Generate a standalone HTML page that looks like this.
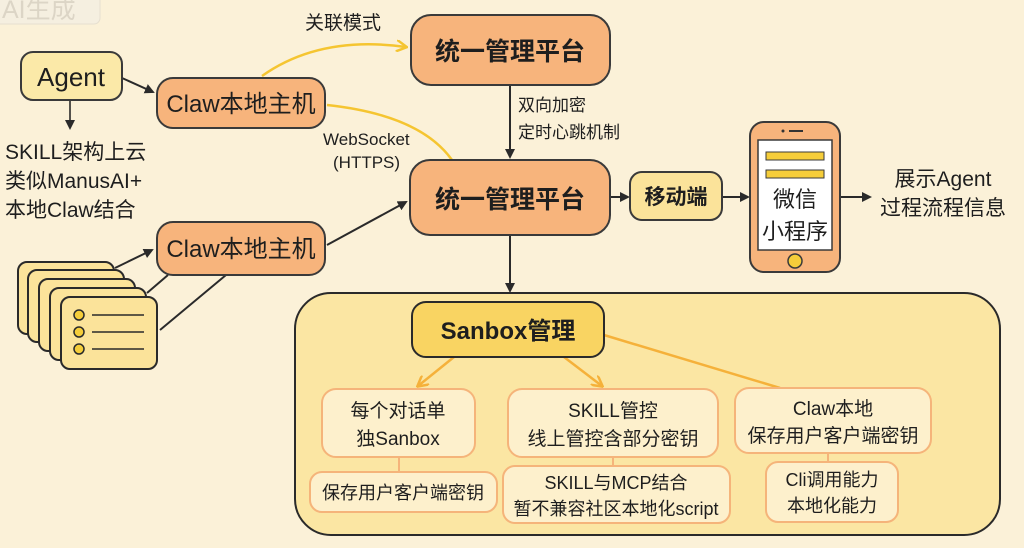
<!DOCTYPE html>
<html><head><meta charset="utf-8"><style>
body{margin:0;width:1024px;height:548px;overflow:hidden;background:#fbf1d8;}
svg{display:block}
text{font-family:"Liberation Sans","Noto Sans CJK SC",sans-serif;fill:#1e1e1e}
</style></head><body>
<svg width="1024" height="548" viewBox="0 0 1024 548">
<defs>
<marker id="a" markerWidth="10" markerHeight="10" refX="8" refY="5" orient="auto" markerUnits="userSpaceOnUse"><path d="M0,0 L10,5 L0,10 z" fill="#2a2a2a"/></marker>
<marker id="y" markerWidth="12" markerHeight="12" refX="10" refY="6" orient="auto" markerUnits="userSpaceOnUse"><path d="M0,0 L11,6 L0,12" fill="none" stroke="#f5c531" stroke-width="2.5"/></marker>
<marker id="o" markerWidth="12" markerHeight="12" refX="10" refY="6" orient="auto" markerUnits="userSpaceOnUse"><path d="M0,0 L11,6 L0,12" fill="none" stroke="#f5b13a" stroke-width="2.5"/></marker>
</defs>
<rect width="1024" height="548" fill="#fbf1d8"/>
<rect x="-10" y="-10" width="110" height="34" rx="6" fill="#f5efe0" stroke="#e6dfcf"/>
<text x="2" y="18" font-size="25" style="fill:#dcd5c6">AI生成</text>

<path d="M262,76 Q320,35 406,47" fill="none" stroke="#f5c531" stroke-width="2.5" marker-end="url(#y)"/>
<path d="M327,105 Q420,115 452,160" fill="none" stroke="#f5c531" stroke-width="2.5"/>
<line x1="122" y1="78" x2="153" y2="92" stroke="#2a2a2a" stroke-width="2" marker-end="url(#a)"/>
<line x1="70" y1="100" x2="70" y2="128" stroke="#2a2a2a" stroke-width="1.6" marker-end="url(#a)"/>
<line x1="510" y1="86" x2="510" y2="157" stroke="#2a2a2a" stroke-width="2" marker-end="url(#a)"/>
<line x1="327" y1="245" x2="406" y2="202" stroke="#2a2a2a" stroke-width="2" marker-end="url(#a)"/>
<line x1="115" y1="268" x2="152" y2="250" stroke="#2a2a2a" stroke-width="2" marker-end="url(#a)"/>
<line x1="147" y1="293" x2="168" y2="275" stroke="#2a2a2a" stroke-width="2"/>
<line x1="160" y1="330" x2="226" y2="275" stroke="#2a2a2a" stroke-width="2"/>
<line x1="610" y1="197" x2="628" y2="197" stroke="#2a2a2a" stroke-width="2" marker-end="url(#a)"/>
<line x1="722" y1="197" x2="748" y2="197" stroke="#2a2a2a" stroke-width="2" marker-end="url(#a)"/>
<line x1="840" y1="197" x2="870" y2="197" stroke="#2a2a2a" stroke-width="2" marker-end="url(#a)"/>
<line x1="510" y1="236" x2="510" y2="291" stroke="#2a2a2a" stroke-width="2" marker-end="url(#a)"/>

<rect x="21" y="52" width="101" height="48" rx="12" fill="#fbe9a8" stroke="#3a3a3a" stroke-width="2"/>
<text x="71" y="86" font-size="26" text-anchor="middle">Agent</text>
<text x="5" y="159" font-size="21">SKILL架构上云</text>
<text x="5" y="188" font-size="21">类似ManusAI+</text>
<text x="5" y="217" font-size="21">本地Claw结合</text>

<rect x="157" y="78" width="168" height="50" rx="16" fill="#f7b47c" stroke="#3a3a3a" stroke-width="2"/>
<text x="241" y="112" font-size="24" text-anchor="middle">Claw本地主机</text>
<rect x="157" y="222" width="168" height="53" rx="16" fill="#f7b47c" stroke="#3a3a3a" stroke-width="2"/>
<text x="241" y="257" font-size="24" text-anchor="middle">Claw本地主机</text>

<text x="305" y="29" font-size="19">关联模式</text>
<rect x="411" y="15" width="199" height="70" rx="20" fill="#f7b47c" stroke="#3a3a3a" stroke-width="2"/>
<text x="510" y="60" font-size="25" font-weight="bold" text-anchor="middle">统一管理平台</text>
<text x="323" y="145" font-size="17">WebSocket</text>
<text x="333" y="168" font-size="17">(HTTPS)</text>
<text x="518" y="111" font-size="17">双向加密</text>
<text x="518" y="138" font-size="17">定时心跳机制</text>
<rect x="410" y="160" width="200" height="75" rx="20" fill="#f7b47c" stroke="#3a3a3a" stroke-width="2"/>
<text x="510" y="208" font-size="25" font-weight="bold" text-anchor="middle">统一管理平台</text>

<rect x="630" y="172" width="92" height="48" rx="12" fill="#fbe39a" stroke="#3a3a3a" stroke-width="2"/>
<text x="676" y="204" font-size="21" font-weight="bold" text-anchor="middle">移动端</text>
<rect x="750" y="122" width="90" height="150" rx="14" fill="#f7b47c" stroke="#3a3a3a" stroke-width="2"/>
<rect x="758" y="140" width="74" height="110" fill="#fff" stroke="#3a3a3a" stroke-width="1.5"/>
<rect x="766" y="152" width="58" height="8" fill="#f5cd3a" stroke="#3a3a3a" stroke-width="1"/>
<rect x="766" y="170" width="58" height="8" fill="#f5cd3a" stroke="#3a3a3a" stroke-width="1"/>
<circle cx="783" cy="131" r="1.5" fill="#333"/><line x1="789" y1="131" x2="803" y2="131" stroke="#333" stroke-width="2"/>
<text x="795" y="207" font-size="22" text-anchor="middle">微信</text>
<text x="795" y="239" font-size="22" text-anchor="middle">小程序</text>
<circle cx="795" cy="261" r="7" fill="#f5cd3a" stroke="#3a3a3a" stroke-width="1.5"/>
<text x="943" y="186" font-size="21" text-anchor="middle">展示Agent</text>
<text x="943" y="215" font-size="21" text-anchor="middle">过程流程信息</text>

<g stroke="#2a2a2a" stroke-width="2">
<rect x="18" y="262" width="96" height="72" rx="9" fill="#fbe39a"/>
<rect x="28" y="270" width="96" height="72" rx="9" fill="#fbe39a"/>
<rect x="39" y="279" width="96" height="72" rx="9" fill="#fbe39a"/>
<rect x="50" y="288" width="96" height="72" rx="9" fill="#fbe39a"/>
<rect x="61" y="297" width="96" height="72" rx="9" fill="#fbe39a"/>
<circle cx="79" cy="315" r="5" fill="#f5cd3a" stroke-width="1.5"/>
<circle cx="79" cy="332" r="5" fill="#f5cd3a" stroke-width="1.5"/>
<circle cx="79" cy="349" r="5" fill="#f5cd3a" stroke-width="1.5"/>
<line x1="92" y1="315" x2="144" y2="315" stroke-width="1.5"/>
<line x1="92" y1="332" x2="144" y2="332" stroke-width="1.5"/>
<line x1="92" y1="349" x2="144" y2="349" stroke-width="1.5"/>
</g>

<rect x="295" y="293" width="705" height="242" rx="36" fill="#fbe6a3" stroke="#2a2a2a" stroke-width="2"/>
<line x1="454" y1="357" x2="418" y2="386" stroke="#f5b13a" stroke-width="2.5" marker-end="url(#o)"/>
<line x1="564" y1="357" x2="602" y2="386" stroke="#f5b13a" stroke-width="2.5" marker-end="url(#o)"/>
<line x1="604" y1="335" x2="780" y2="388" stroke="#f5b13a" stroke-width="2.5"/>
<rect x="412" y="302" width="192" height="55" rx="14" fill="#f9d462" stroke="#2a2a2a" stroke-width="2"/>
<text x="508" y="339" font-size="24" font-weight="bold" text-anchor="middle">Sanbox管理</text>
<g fill="#fdf0cc" stroke="#f5b47a" stroke-width="2">
<line x1="399" y1="457" x2="399" y2="472"/>
<line x1="613" y1="457" x2="613" y2="466"/>
<line x1="828" y1="453" x2="828" y2="462"/>
<rect x="322" y="389" width="153" height="68" rx="14"/>
<rect x="508" y="389" width="210" height="68" rx="14"/>
<rect x="735" y="388" width="196" height="65" rx="14"/>
<rect x="310" y="472" width="187" height="40" rx="12"/>
<rect x="503" y="466" width="227" height="57" rx="12"/>
<rect x="766" y="462" width="132" height="60" rx="12"/>
</g>
<g font-size="19" text-anchor="middle">
<text x="398" y="417">每个对话单</text><text x="398" y="445">独Sanbox</text>
<text x="613" y="417">SKILL管控</text><text x="613" y="445">线上管控含部分密钥</text>
<text x="833" y="415">Claw本地</text><text x="833" y="442">保存用户客户端密钥</text>
<text x="403" y="499" font-size="18">保存用户客户端密钥</text>
<text x="616" y="489" font-size="18">SKILL与MCP结合</text><text x="616" y="515" font-size="18">暂不兼容社区本地化script</text>
<text x="832" y="486" font-size="18">Cli调用能力</text><text x="832" y="512" font-size="18">本地化能力</text>
</g>
</svg>
</body></html>
